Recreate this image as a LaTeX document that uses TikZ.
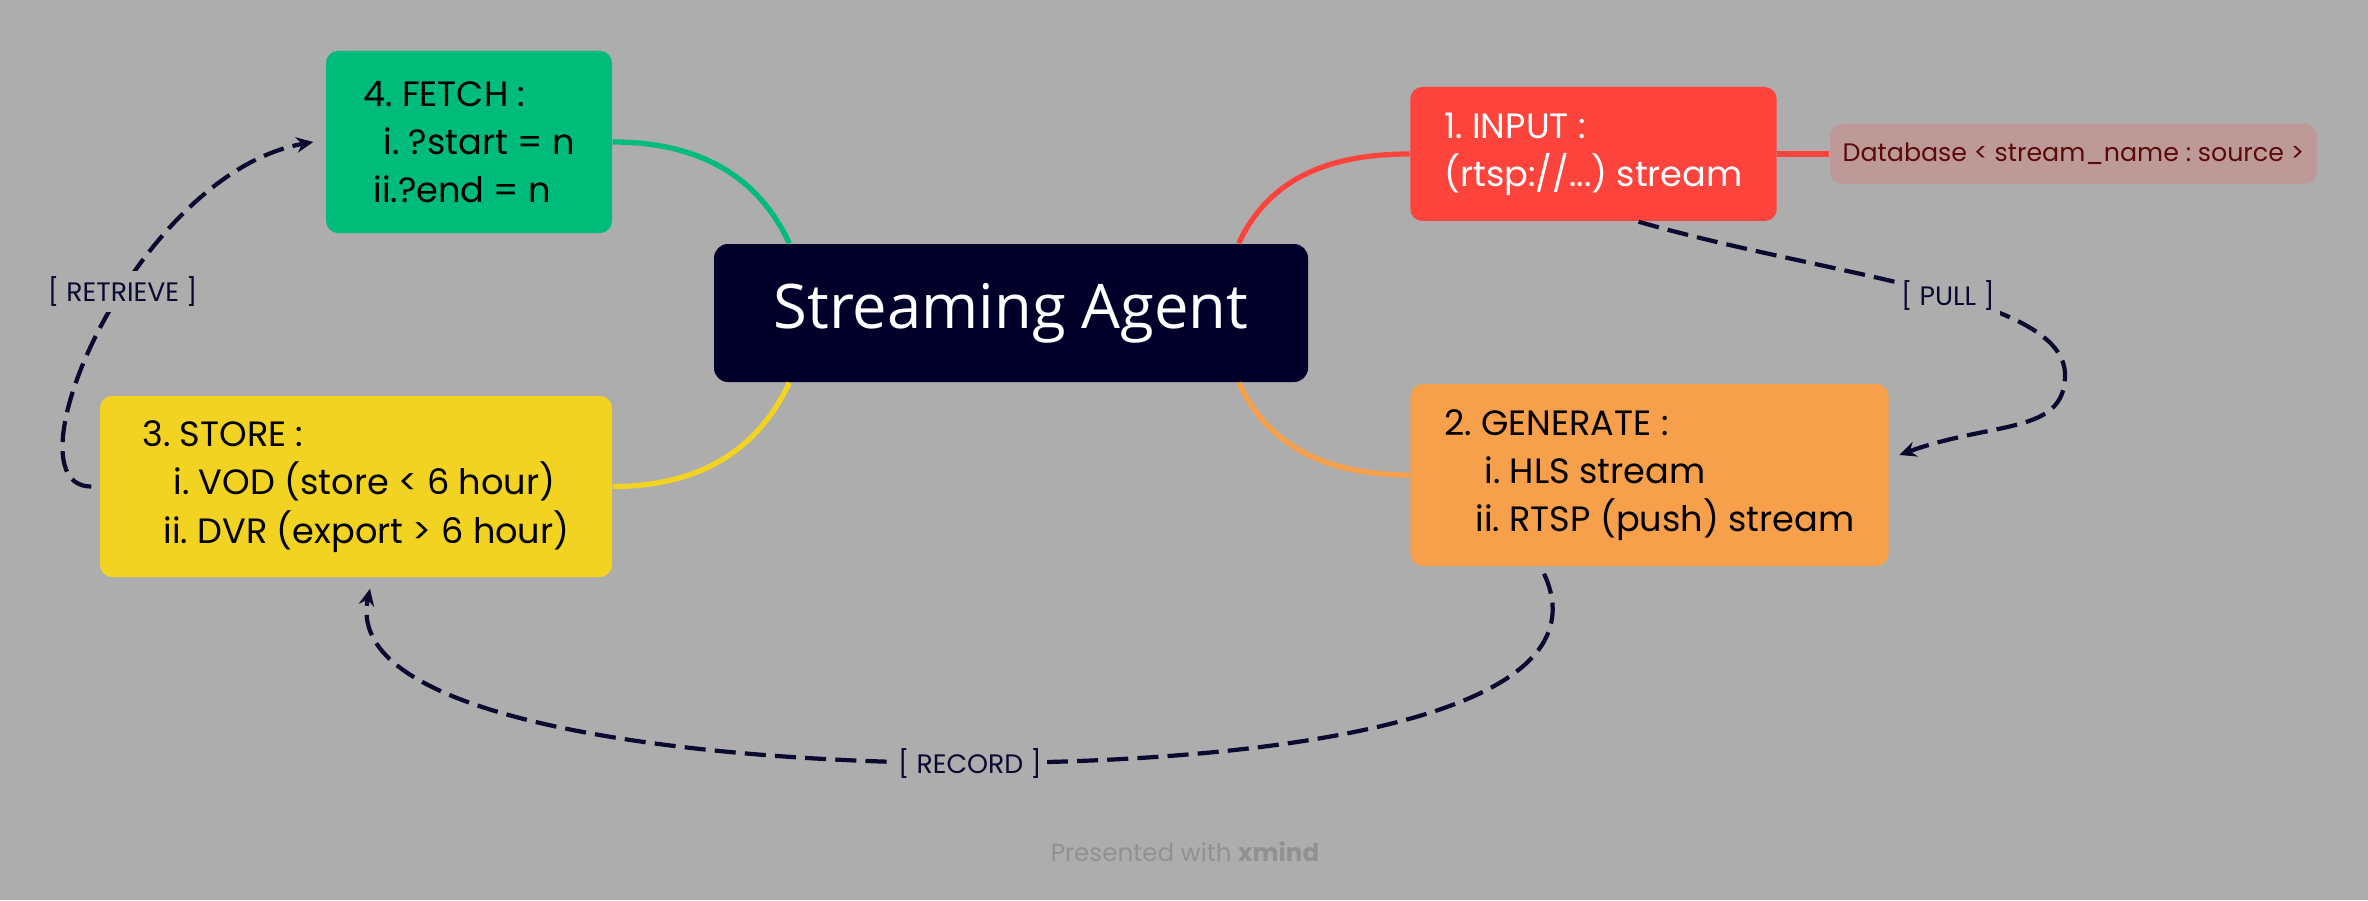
\documentclass[tikz,border=0pt]{standalone}
\usepackage{fontspec}
\setmainfont{Poppins}
\newfontfamily\agentfont{Open Sans}
\usetikzlibrary{arrows.meta}
\definecolor{canvas}{HTML}{ADADAD}
\definecolor{agentnavy}{HTML}{00002A}
\definecolor{fetchgreen}{HTML}{00BC7A}
\definecolor{storeyellow}{HTML}{F2D322}
\definecolor{genorange}{HTML}{F6A04B}
\definecolor{inputred}{HTML}{FC443D}
\definecolor{dbpink}{HTML}{BD9A97}
\definecolor{dbtext}{HTML}{5B0A0A}
\definecolor{flowc}{HTML}{0A0A30}
\definecolor{creditgray}{HTML}{919191}
\tikzset{
topic/.style={
	rectangle,
	rounded corners=0.12cm,
	align=left,
	inner xsep=0.34cm,
	inner ysep=0pt,
	font=\fontsize{10}{13.7}\selectfont
},
central/.style={
	rectangle,
	rounded corners=0.14cm,
	fill=agentnavy,
	text=white,
	minimum width=5.94cm,
	minimum height=1.38cm,
	font=\agentfont\fontsize{17.5}{20}\selectfont
},
link/.style={
	line width=1.5pt
},
flow/.style={
	draw=flowc,
	line width=1.2pt,
	dash pattern=on 6pt off 2.6pt,
	-{Stealth[length=4.8pt,width=4.4pt]}
}
}
\begin{document}
\frenchspacing
\begin{tikzpicture}[
  lbl/.style={fill=canvas, inner sep=1.5pt, text=flowc, font=\fontsize{7.6}{9}\selectfont}
]
\useasboundingbox[fill=canvas] (0,0) rectangle (23.68,9);

\node (agent) [central] at (10.11,5.87) {Streaming Agent};

\node (input) [topic, fill=inputred, text=white, minimum width=3.65cm, minimum height=1.34cm]
  at (15.935,7.46) {1. INPUT :\\(rtsp://...) stream};
\node (generate) [topic, fill=genorange, minimum width=4.77cm, minimum height=1.82cm]
  at (16.495,4.25) {2. GENERATE :\\
  \hspace*{0.40cm}i. HLS stream\\
  \hspace*{0.31cm}ii. RTSP (push) stream};
\node (store) [topic, fill=storeyellow, minimum width=5.12cm, minimum height=1.81cm]
  at (3.56,4.135) {3. STORE :\\
  \hspace*{0.31cm}i. VOD (store < 6 hour)\\
  \hspace*{0.21cm}ii. DVR (export > 6 hour)};
\node (fetch) [topic, fill=fetchgreen, minimum width=2.86cm, minimum height=1.82cm]
  at (4.69,7.58) {4. FETCH :\\
  \hspace*{0.20cm}i. ?start = n\\
  \hspace*{0.10cm}ii.?end = n};

\node (db) [rectangle, rounded corners=0.12cm, fill=dbpink, text=dbtext, inner xsep=0.1cm,
  minimum width=4.87cm, minimum height=0.60cm, font=\fontsize{7.2}{9}\selectfont]
  at (20.735,7.46) {Database < stream\_name : source >};

\node (credit) [text=creditgray, font=\fontsize{7}{9}\selectfont] at (11.85,0.48)
  {Presented with \textbf{xmind}};

% Branches from the central topic
\draw[link, fetchgreen]  (fetch.east)    to[out=0, in=115]   ([xshift=0.76cm]agent.north west);
\draw[link, storeyellow] (store.east)    to[out=0, in=-115]  ([xshift=0.76cm]agent.south west);
\draw[link, inputred]    (input.west)    to[out=180, in=65]  ([xshift=-0.70cm]agent.north east);
\draw[link, genorange]   (generate.west) to[out=180, in=-65] ([xshift=-0.70cm]agent.south east);
\draw[link, inputred]    (input.east) -- (db.west);

% Relationships
\coordinate (pullturn) at (20.65,5.25);
\coordinate (recmid) at (9.70,1.37);

\draw[flow] ([xshift=0.45cm]input.south)
  .. controls +(-16:2) and +(90:0.8) .. node[lbl, pos=0.55] {[ PULL ]} (pullturn)
  .. controls +(-90:0.6) and +(20:1) .. ([shift={(0.1cm,0.2cm)}]generate.east);

\draw[flow] ([xshift=-1.055cm,yshift=-0.07cm]generate.south)
  .. controls +(-65:1.6) and +(0:3) .. node[lbl, pos=1] {[ RECORD ]} (recmid)
  .. controls +(180:2.5) and +(-102:1.4) .. ([xshift=0.14cm,yshift=-0.11cm]store.south);

\draw[flow] ([xshift=-0.08cm]store.west)
  .. controls +(180:0.9) and +(190:1.8) .. node[lbl, pos=0.57] {[ RETRIEVE ]}
  ([xshift=-0.12cm]fetch.west);

\end{tikzpicture}
\end{document}
